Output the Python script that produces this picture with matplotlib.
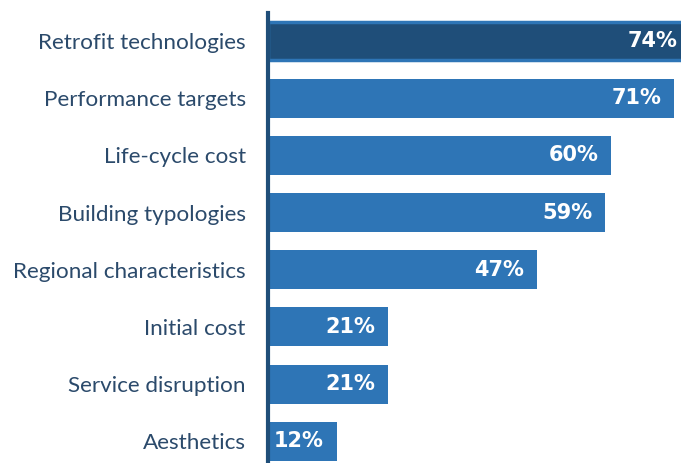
import numpy as np
import matplotlib.pyplot as plt

categorias = ['Retrofit technologies', 'Performance targets', 'Life-cycle cost',
              'Building typologies', 'Regional characteristics', 'Initial cost',
              'Service disruption', 'Aesthetics']
valores = [74, 71, 60, 59, 47, 21, 21, 12]

fig = plt.figure(figsize=(6.81, 4.63), dpi=100)
ax = fig.add_axes([0.3935, 0.0, 0.6065, 0.972])

y = np.arange(len(categorias))
colores = ['#1f4e79'] + ['#2e75b6'] * (len(valores) - 1)
bars = ax.barh(y, valores, height=0.68, color=colores, zorder=2)
bars[0].set_edgecolor('#2e75b6')
bars[0].set_linewidth(2.5)

for yi, v in zip(y, valores):
    ax.text(v - 2.2 if v < 72 else 71.6, yi, f'{v}%', ha='right', va='center',
            color='white', fontsize=15, fontweight='bold', family='DejaVu Sans')

ax.set_xlim(0, 72.2)
ax.set_ylim(7.38, -0.49)
ax.set_yticks(y)
ax.set_yticklabels(categorias, fontsize=16.2, color='#2b4a6b', family='Lato')
ax.tick_params(axis='y', length=0, pad=16)
ax.set_xticks([])
for s in ['top', 'right', 'bottom']:
    ax.spines[s].set_visible(False)
ax.spines['left'].set_color('#1f4e79')
ax.spines['left'].set_linewidth(3)
ax.spines['left'].set_zorder(3)

plt.savefig('out.png', dpi=100)
